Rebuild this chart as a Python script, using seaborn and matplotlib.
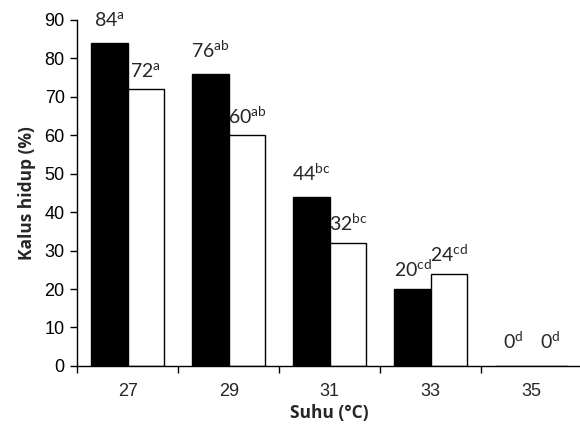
import matplotlib
matplotlib.use("Agg")
import matplotlib.pyplot as plt
import seaborn as sns
import pandas as pd
import numpy as np
from matplotlib.ticker import FixedLocator, NullFormatter

categories = ["27", "29", "31", "33", "35"]
series_names = ["A", "B"]
values_black = [84, 76, 44, 20, 0]
values_white = [72, 60, 32, 24, 0]
letters_black = ["a", "ab", "bc", "cd", "d"]
letters_white = ["a", "ab", "bc", "cd", "d"]

df = pd.DataFrame({
    "Suhu": categories * 2,
    "val": values_black + values_white,
    "grp": [series_names[0]] * 5 + [series_names[1]] * 5,
})

sns.set_style("ticks")
plt.rcParams["font.family"] = ["Liberation Sans", "DejaVu Sans"]
plt.rcParams["mathtext.fontset"] = "custom"
plt.rcParams["mathtext.rm"] = "Lato"

fig = plt.figure(figsize=(5.8, 4.25), dpi=100)
ax = fig.add_axes([0.133, 0.139, 0.871, 0.814])

sns.barplot(data=df, x="Suhu", y="val", hue="grp", order=categories,
            palette=["black", "white"], edgecolor="black", linewidth=1.0,
            width=0.72, gap=0, legend=False, ax=ax, saturation=1)

ax.set_ylim(0, 90)
ax.set_xlim(-0.5, len(categories) - 0.5)
ax.set_yticks(range(0, 91, 10))
ax.tick_params(axis="y", labelsize=13, direction="out", length=5, width=1, colors="black", pad=4)
ax.tick_params(axis="x", which="major", length=0, labelsize=13, pad=12)
ax.xaxis.set_minor_locator(FixedLocator(np.arange(-0.5, len(categories), 1.0)))
ax.xaxis.set_minor_formatter(NullFormatter())
ax.tick_params(axis="x", which="minor", length=5, width=1, direction="out", color="black")
sns.despine(ax=ax)
for s in ["left", "bottom"]:
    ax.spines[s].set_linewidth(1.0)
    ax.spines[s].set_color("black")

ax.set_xlabel("Suhu (°C)", fontsize=12.5, fontweight="bold", family=["Open Sans", "DejaVu Sans"], labelpad=3)
ax.set_ylabel("Kalus hidup (%)", fontsize=12.5, fontweight="bold", family=["Open Sans", "DejaVu Sans"], labelpad=6)

px = 72 / 100
for i, (cont, vals, lets) in enumerate(zip(ax.containers, [values_black, values_white], [letters_black, letters_white])):
    for bar, v, l in zip(cont, vals, lets):
        x = bar.get_x() + bar.get_width() / 2
        if v == 0:
            off = 17
        elif i == 0 and v > 30:
            off = 16
        elif i == 1 and v > 40:
            off = 11
        else:
            off = 12
        ax.annotate(f"{v}$^{{\\mathrm{{{l}}}}}$", (x, v), xytext=(0, off * px),
                    textcoords="offset points", ha="center", va="baseline",
                    fontsize=14, family=["Lato", "DejaVu Sans"], clip_on=False)

fig.savefig("out.png", dpi=100)
